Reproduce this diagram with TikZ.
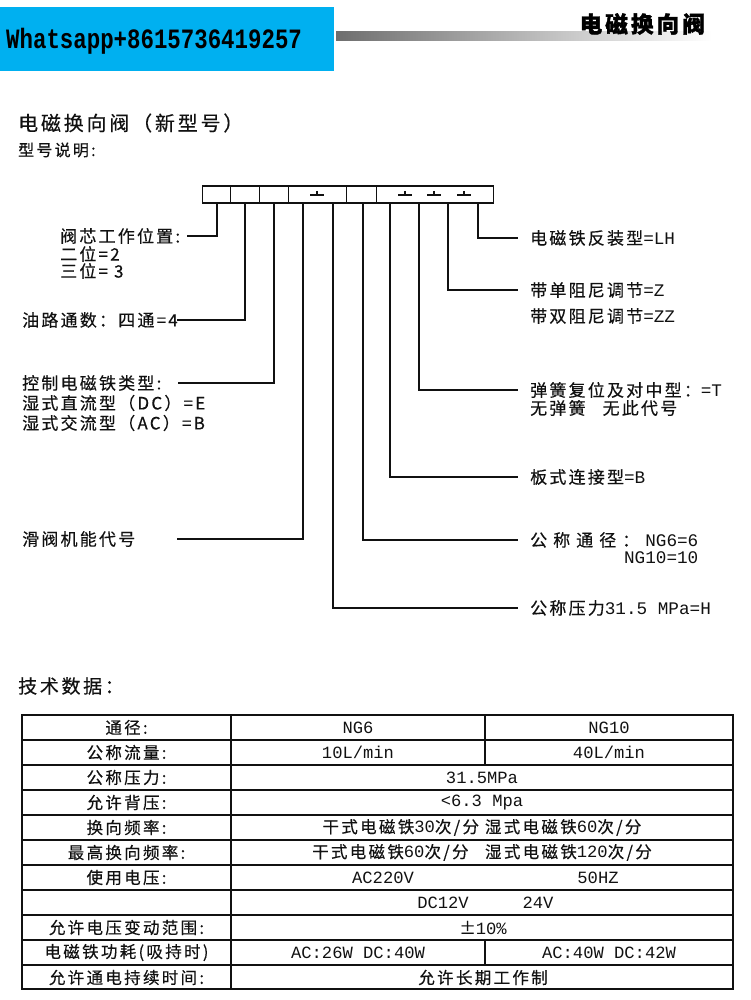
\documentclass[tikz,border=0pt]{standalone}
\usepackage{fontspec}
\setmainfont[LetterSpace=14,FakeBold=0.4]{Noto Sans CJK SC}
\newfontfamily\monof[Scale=1.04]{Liberation Mono}
\newfontfamily\hdrfont[FakeStretch=0.8]{Liberation Mono}
\newcommand\lat[1]{{\monof #1}}
\usetikzlibrary{positioning}
\definecolor{ink}{HTML}{111111}
\definecolor{cyanbar}{HTML}{00B0F0}
\definecolor{barleft}{HTML}{6E6E6E}
\tikzset{
  cell/.style={draw=ink,line width=1.2pt,minimum height=17pt,inner sep=0pt},
  leg/.style={draw=ink,line width=1.3pt},
  lbl/.style={font=\fontsize{17}{19}\selectfont\addfontfeature{LetterSpace=13},inner sep=0pt,text=ink},
  lleft/.style={lbl,anchor=west,align=left},
  lright/.style={lbl,anchor=west,inner xsep=12pt},
  tcell/.style={font=\fontsize{16.5}{18}\selectfont\addfontfeature{LetterSpace=14},inner sep=0pt,text=ink},
  rule/.style={draw=ink,line width=1.1pt},
  frame/.style={draw=ink,line width=1.8pt}
}

\begin{document}
\begin{tikzpicture}[x=1pt,y=-1pt]
  \useasboundingbox (0,0) rectangle (750,1000);

  % banner
  \fill[cyanbar] (0,7) rectangle (334,71);
  \node[font=\hdrfont\bfseries\fontsize{28}{30}\selectfont,anchor=west,inner sep=0pt] (whats) at (6,41) {Whatsapp+8615736419257};
  \shade[left color=barleft,right color=white] (336,32) rectangle (712,41);
  \node[font=\bfseries\fontsize{22.5}{25}\selectfont\addfontfeature{FakeBold=1.5},anchor=east,inner sep=0pt] (hdtitle) at (705,24) {电磁换向阀};

  \node[lleft,font=\fontsize{20}{22}\selectfont] (sect) at (18,123) {电磁换向阀（新型号）};
  \node[lleft,font=\fontsize{16}{18}\selectfont] (sub) at (18,150) {型号说明:};

  % code boxes
  \foreach \n/\a/\b in {1/202/230,2/230/259,3/259/288,4/288/346,5/346/376,6/376/493}
    \node[cell,minimum width=\b-\a,anchor=west] (c\n) at (\a,194.5) {};
  \foreach \x in {317,405,434,464}
    \draw[leg,line width=1.1pt] (\x-7,195) -- (\x+7,195) (\x,191) -- (\x,195);
  \foreach \i/\x in {1/217,2/245,3/274,4/303,5/333,6/363,7/390,8/419,9/448,10/478}
    \coordinate (l\i) at (\x,203);

  % left side
  \node[lleft,text width=127pt] (pos) at (60,236) {阀芯工作位置:};
  \node[lleft] (pos2) at (60,254) {二位=2};
  \node[lleft] (pos3) at (60,271) {三位= 3};
  \node[lleft,text width=155pt] (ways) at (22,320) {油路通数：四通=4};
  \node[lleft,text width=156pt] (coil) at (22,383) {控制电磁铁类型:};
  \node[lleft] (coil2) at (22,403) {湿式直流型（DC）=E};
  \node[lleft] (coil3) at (22,423) {湿式交流型（AC）=B};
  \node[lleft,text width=155pt] (spool) at (22,539) {滑阀机能代号};

  \draw[leg] (l1) |- (pos.east);
  \draw[leg] (l2) |- (ways.east);
  \draw[leg] (l3) |- (coil.east);
  \draw[leg] (l4) |- (spool.east);

  % right side
  \node[lright] (rev) at (518,238) {电磁铁反装型\lat{=LH}};
  \node[lright] (damp) at (518,290) {带单阻尼调节\lat{=Z}};
  \node[lbl,anchor=west] (damp2) at (530,316) {带双阻尼调节\lat{=ZZ}};
  \node[lright] (spring) at (518,390) {弹簧复位及对中型：\lat{=T}};
  \node[lbl,anchor=west] (spring2) at (530,408) {无弹簧\quad 无此代号};
  \node[lright] (plate) at (518,477) {板式连接型\lat{=B}};
  \node[lright] (dn) at (518,540) {公 称 通 径 ： \lat{NG6=6}};
  \node[lbl,anchor=north east] (dn2) at ([xshift=-12pt,yshift=-3pt]dn.south east) {\lat{NG10=10}};
  \node[lright] (press) at (518,608) {公称压力\lat{31.5 MPa=H}};

  \draw[leg] (l5) |- (press.west);
  \draw[leg] (l6) |- (dn.west);
  \draw[leg] (l7) |- (plate.west);
  \draw[leg] (l8) |- (spring.west);
  \draw[leg] (l9) |- (damp.west);
  \draw[leg] (l10) |- (rev.west);

  % technical data
  \node[lleft,font=\fontsize{19}{21}\selectfont] (tech) at (18,686) {技术数据：};

  \draw[frame] (22,715) rectangle (733,989);
  \foreach \y in {740,765,...,965}
    \draw[rule] (22,\y) -- (733,\y);
  \draw[rule] (231,715) -- (231,989);
  \draw[rule] (485,715) -- (485,765);
  \draw[rule] (485,940) -- (485,965);

  \foreach \i/\t in {1/通径:,2/公称流量:,3/公称压力:,4/允许背压:,5/换向频率:,6/最高换向频率:,7/使用电压:,9/允许电压变动范围:,10/电磁铁功耗(吸持时),11/允许通电持续时间:}
    \node[tcell] (k\i) at (126.5,702.5+25*\i) {\t};

  \node[tcell] (ng6) at (358,727.5) {\lat{NG6}};
  \node[tcell] (ng10) at (609,727.5) {\lat{NG10}};
  \node[tcell] (q6) at (358,752.5) {\lat{10L/min}};
  \node[tcell] (q10) at (609,752.5) {\lat{40L/min}};
  \node[tcell] (pn) at (482,777.5) {\lat{31.5MPa}};
  \node[tcell] (pb) at (482,802.5) {\lat{<6.3 Mpa}};
  \node[tcell] (fr) at (482,827.5) {干式电磁铁\lat{30}次/分 湿式电磁铁\lat{60}次/分};
  \node[tcell] (frmax) at (482,852.5) {干式电磁铁\lat{60}次/分\quad 湿式电磁铁\lat{120}次/分};
  \node[tcell] (vac) at (383,877.5) {\lat{AC220V}};
  \node[tcell] (hz) at (598,877.5) {\lat{50HZ}};
  \node[tcell] (vdc) at (443,902.5) {\lat{DC12V}};
  \node[tcell] (v24) at (538,902.5) {\lat{24V}};
  \node[tcell] (tol) at (483,927.5) {±\lat{10\%}};
  \node[tcell] (pw6) at (358,952.5) {\lat{AC:26W DC:40W}};
  \node[tcell] (pw10) at (609,952.5) {\lat{AC:40W DC:42W}};
  \node[tcell] (duty) at (483,977.5) {允许长期工作制};
\end{tikzpicture}
\end{document}
